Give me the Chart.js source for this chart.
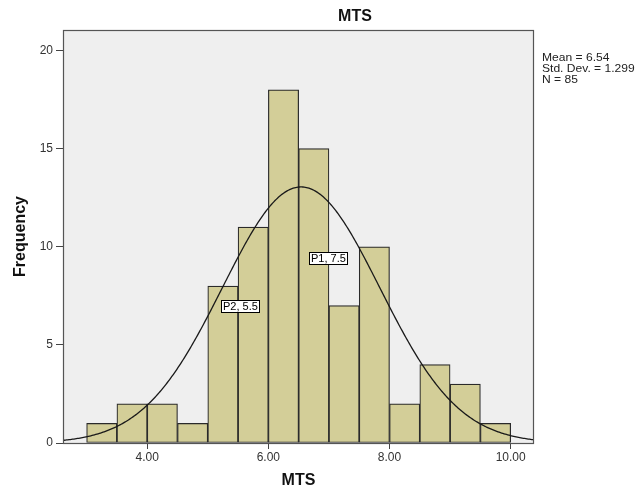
<!DOCTYPE html>
<html>
<head>
<meta charset="utf-8">
<script src="https://cdn.jsdelivr.net/npm/chart.js@4.4.0/dist/chart.umd.min.js"></script>
<style>
  html, body { margin: 0; padding: 0; background: #fff; }
  #wrap { width: 640px; height: 494px; }
</style>
</head>
<body>
<div id="wrap"><canvas id="histChart" width="640" height="494"></canvas></div>
<script>
// MTS histogram: bin starts and counts
var binStarts = [3.0, 3.5, 4.0, 4.5, 5.0, 5.5, 6.0, 6.5, 7.0, 7.5, 8.0, 8.5, 9.0, 9.5];
var frequencies = [1, 2, 2, 1, 8, 11, 18, 15, 7, 10, 2, 4, 3, 1];
var binWidth = 0.5;

// summary statistics shown beside the plot
var mean = 6.54;
var stdDev = 1.299;
var sampleSize = 85;

// axis ticks
var xTicks = [4, 6, 8, 10];
var yTicks = [0, 5, 10, 15, 20];
var xRange = [2.61, 10.385];
var yRange = [0, 21.05];

// point labels placed on the plot
var markerLabels = ['P1, 7.5', 'P2, 5.5'];
var markerX = [6.67, 5.22];
var markerY = [9.44, 6.98];

var FONT = '"Liberation Sans", Arial, sans-serif';

var barData = binStarts.map(function (s, i) {
    return { x: s + binWidth / 2, y: frequencies[i] };
});

// fitted normal curve scaled to counts per bin
var curveData = [];
for (var x = xRange[0]; x <= xRange[1] + 0.001; x += 0.02) {
    var z = (x - mean) / stdDev;
    var dens = Math.exp(-0.5 * z * z) / (stdDev * Math.sqrt(2 * Math.PI));
    curveData.push({ x: x, y: dens * sampleSize * binWidth });
}

// text drawn a little wider than normal
function wideText(ctx, txt, x, y, sx) {
    ctx.save();
    ctx.translate(x, y);
    ctx.scale(sx, 1);
    ctx.fillText(txt, 0, 0);
    ctx.restore();
}

var framePlugin = {
    id: 'frame',
    beforeDraw: function (chart) {
        var ctx = chart.ctx, a = chart.chartArea;
        ctx.save();
        ctx.fillStyle = '#ffffff';
        ctx.fillRect(0, 0, chart.width, chart.height);
        ctx.fillStyle = '#efefef';
        ctx.fillRect(a.left, a.top, a.right - a.left, a.bottom - a.top);
        ctx.restore();
    },
    afterDatasetsDraw: function (chart) {
        var ctx = chart.ctx;
        var xs = chart.scales.x, ys = chart.scales.y;
        ctx.save();
        ctx.font = '11px ' + FONT;
        ctx.textBaseline = 'middle';
        markerLabels.forEach(function (txt, i) {
            var px = Math.round(xs.getPixelForValue(markerX[i]));
            var py = Math.round(ys.getPixelForValue(markerY[i]));
            var w = Math.ceil(ctx.measureText(txt).width) + 3;
            ctx.fillStyle = '#ffffff';
            ctx.fillRect(px, py - 6, w, 12);
            ctx.strokeStyle = '#000';
            ctx.lineWidth = 1;
            ctx.strokeRect(px + 0.5, py - 5.5, w, 12);
            ctx.fillStyle = '#000';
            ctx.fillText(txt, px + 2, py + 0.5);
        });
        ctx.restore();
    },
    afterDraw: function (chart) {
        var ctx = chart.ctx, a = chart.chartArea;
        ctx.save();
        ctx.strokeStyle = '#555';
        ctx.lineWidth = 1.2;
        ctx.strokeRect(a.left + 0.5, a.top + 0.5, a.right - a.left - 1, a.bottom - a.top);

        ctx.fillStyle = '#111';
        ctx.textAlign = 'center';
        ctx.textBaseline = 'middle';
        ctx.font = 'bold 16px ' + FONT;
        ctx.fillText('MTS', 355, 17);
        ctx.fillText('MTS', (a.left + a.right) / 2, 481);

        ctx.save();
        ctx.translate(21, (a.top + a.bottom) / 2);
        ctx.rotate(-Math.PI / 2);
        ctx.fillText('Frequency', 0, 0);
        ctx.restore();

        ctx.textAlign = 'left';
        ctx.font = '11.5px ' + FONT;
        ctx.fillStyle = '#222';
        var lines = [
            'Mean = ' + mean.toFixed(2),
            'Std. Dev. = ' + stdDev.toFixed(3),
            'N = ' + sampleSize
        ];
        lines.forEach(function (t, i) {
            wideText(ctx, t, a.right + 8, 58 + i * 11, 1.05);
        });
        ctx.restore();
    }
};

var ctx = document.getElementById('histChart').getContext('2d');
var histChart = new Chart(ctx, {
    type: 'bar',
    data: {
        datasets: [{
            type: 'line',
            data: curveData,
            borderColor: '#1a1a1a',
            borderWidth: 1.3,
            pointRadius: 0,
            tension: 0,
            fill: false,
            order: 0
        }, {
            type: 'bar',
            data: barData,
            backgroundColor: '#d3ce98',
            borderColor: '#2a2a2a',
            borderWidth: 1.2,
            borderSkipped: false,
            barPercentage: 1.0,
            categoryPercentage: 1.0,
            grouped: false,
            order: 1
        }]
    },
    options: {
        responsive: false,
        animation: false,
        devicePixelRatio: 1,
        layout: { padding: { left: 0, right: 106, top: 30, bottom: 0 } },
        plugins: {
            legend: { display: false },
            tooltip: { enabled: false }
        },
        scales: {
            x: {
                type: 'linear',
                offset: false,
                min: xRange[0],
                max: xRange[1],
                afterFit: function (s) { s.height = 51; },
                afterBuildTicks: function (s) {
                    s.ticks = xTicks.map(function (v) { return { value: v }; });
                },
                ticks: {
                    autoSkip: false,
                    maxRotation: 0,
                    padding: 1,
                    color: '#333',
                    font: { family: FONT, size: 12 },
                    callback: function (v) { return Number(v).toFixed(2); }
                },
                grid: { offset: false, drawOnChartArea: false, tickLength: 6, color: '#444' },
                border: { display: false }
            },
            y: {
                min: yRange[0],
                max: yRange[1],
                afterFit: function (s) { s.width = 63; },
                afterBuildTicks: function (s) {
                    s.ticks = yTicks.map(function (v) { return { value: v }; });
                },
                ticks: {
                    padding: 3,
                    color: '#333',
                    font: { family: FONT, size: 12 }
                },
                grid: { drawOnChartArea: false, tickLength: 7, color: '#444' },
                border: { display: false }
            }
        }
    },
    plugins: [framePlugin]
});
</script>
</body>
</html>
